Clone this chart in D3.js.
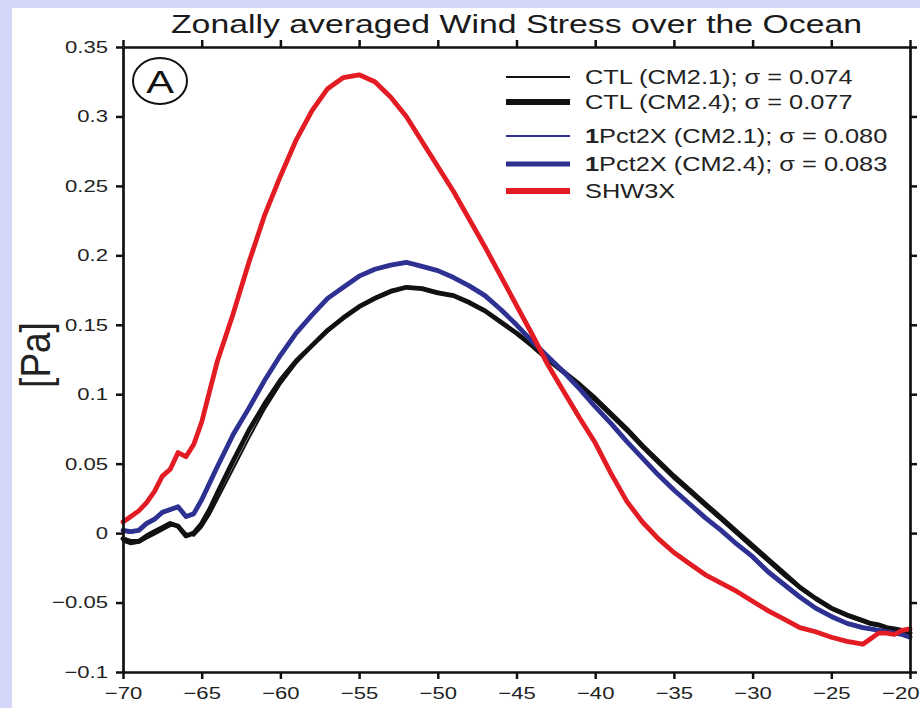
<!DOCTYPE html>
<html>
<head>
<meta charset="utf-8">
<script src="https://cdn.jsdelivr.net/npm/d3@7"></script>
<style>
  body { margin: 0; background: #d4d6fa; }
  svg { display: block; }
</style>
</head>
<body>
<div id="chart"></div>
<script>
// latitude grid shared by all curves
const lats = [-70, -69.5, -69, -68.5, -68, -67.5, -67, -66.5, -66, -65.5, -65, -64.5, -64,
  -63, -62, -61, -60, -59, -58, -57, -56, -55, -54, -53, -52, -51, -50, -49, -48, -47, -46,
  -45, -44, -43, -42, -41, -40, -39, -38, -37, -36, -35, -34, -33, -32, -31, -30, -29, -28,
  -27, -26, -25, -24, -23, -22.5, -22, -21.5, -21, -20.5, -20];

const ctl21 = [-0.006, -0.008, -0.007, -0.004, -0.001, 0.002, 0.005, 0.006, 0.000, -0.002, 0.004, 0.013, 0.024,
  0.046, 0.068, 0.089, 0.107, 0.122, 0.134, 0.145, 0.155, 0.163, 0.170, 0.175, 0.177, 0.176, 0.174, 0.171, 0.167, 0.160, 0.152,
  0.143, 0.134, 0.124, 0.115, 0.105, 0.095, 0.084, 0.073, 0.061, 0.050, 0.039, 0.029, 0.019, 0.009, -0.001, -0.011, -0.021, -0.031,
  -0.040, -0.048, -0.055, -0.060, -0.064, -0.066, -0.067, -0.069, -0.070, -0.071, -0.073];

const ctl24 = [-0.004, -0.006, -0.006, -0.002, 0.001, 0.004, 0.007, 0.005, -0.002, 0.000, 0.007, 0.017, 0.029,
  0.052, 0.074, 0.093, 0.110, 0.124, 0.135, 0.146, 0.155, 0.163, 0.169, 0.174, 0.177, 0.176, 0.173, 0.171, 0.166, 0.160, 0.152,
  0.144, 0.135, 0.125, 0.116, 0.107, 0.097, 0.086, 0.075, 0.063, 0.052, 0.041, 0.031, 0.021, 0.011, 0.001, -0.009, -0.019, -0.029,
  -0.039, -0.047, -0.054, -0.059, -0.063, -0.065, -0.066, -0.068, -0.069, -0.070, -0.072];

const pct21 = [0.001, 0.000, 0.002, 0.006, 0.009, 0.014, 0.016, 0.018, 0.011, 0.013, 0.023, 0.035, 0.047,
  0.070, 0.089, 0.109, 0.127, 0.143, 0.157, 0.168, 0.177, 0.185, 0.190, 0.193, 0.194, 0.192, 0.189, 0.184, 0.178, 0.170, 0.161,
  0.150, 0.138, 0.127, 0.115, 0.103, 0.090, 0.078, 0.066, 0.054, 0.042, 0.031, 0.021, 0.011, 0.002, -0.008, -0.018, -0.028, -0.037,
  -0.046, -0.054, -0.060, -0.065, -0.068, -0.069, -0.070, -0.071, -0.072, -0.073, -0.075];

const pct24 = [0.002, 0.001, 0.002, 0.007, 0.010, 0.015, 0.017, 0.019, 0.012, 0.014, 0.024, 0.036, 0.048,
  0.071, 0.090, 0.110, 0.128, 0.144, 0.157, 0.169, 0.177, 0.185, 0.190, 0.193, 0.195, 0.192, 0.189, 0.184, 0.178, 0.171, 0.161,
  0.150, 0.138, 0.127, 0.116, 0.104, 0.091, 0.079, 0.066, 0.054, 0.042, 0.031, 0.021, 0.011, 0.002, -0.008, -0.017, -0.028, -0.037,
  -0.046, -0.054, -0.060, -0.065, -0.068, -0.069, -0.070, -0.071, -0.072, -0.073, -0.075];

const shw3x = [0.008, 0.012, 0.016, 0.022, 0.030, 0.041, 0.046, 0.058, 0.055, 0.064, 0.080, 0.102, 0.124,
  0.158, 0.195, 0.229, 0.257, 0.283, 0.304, 0.320, 0.328, 0.330, 0.325, 0.314, 0.300, 0.282, 0.264, 0.246, 0.226, 0.206, 0.185,
  0.164, 0.143, 0.121, 0.102, 0.083, 0.065, 0.043, 0.023, 0.008, -0.004, -0.014, -0.022, -0.030, -0.036, -0.042, -0.049, -0.056, -0.062,
  -0.068, -0.071, -0.075, -0.078, -0.080, -0.076, -0.072, -0.072, -0.073, -0.070, -0.069];

const seriesNames = ["CTL (CM2.1); σ = 0.074", "CTL (CM2.4); σ = 0.077",
  "1Pct2X (CM2.1); σ = 0.080", "1Pct2X (CM2.4); σ = 0.083", "SHW3X"];
const seriesValues = [ctl21, ctl24, pct21, pct24, shw3x];

const xTicks = [-70, -65, -60, -55, -50, -45, -40, -35, -30, -25, -20];
const yTicks = [-0.1, -0.05, 0, 0.05, 0.1, 0.15, 0.2, 0.25, 0.3, 0.35];
const yTickLabels = ["−0.1", "−0.05", "0", "0.05", "0.1", "0.15", "0.2", "0.25", "0.3", "0.35"];

// styles per series
const colors = ["#111111", "#111111", "#2e3192", "#2e3192", "#e31b23"];
const widths = [2, 4.8, 2, 4.8, 4.8];

const W = 920, H = 708;
const SX = 1.3;   // the original figure is stretched horizontally
const m = { left: 123, right: 10, top: 47, bottom: 36 };

const svg = d3.select("#chart").append("svg")
  .attr("width", W).attr("height", H)
  .style("font-family", "'Liberation Sans', Arial, sans-serif");

svg.append("rect").attr("width", W).attr("height", H).attr("fill", "#d4d6fa");
svg.append("rect").attr("x", 12).attr("y", 8)
  .attr("width", W - 12).attr("height", H - 8).attr("fill", "#ffffff");

const x = d3.scaleLinear().domain([-70, -20]).range([m.left, W - m.right]);
const y = d3.scaleLinear().domain([-0.1, 0.35]).range([H - m.bottom, m.top]);

// stretched text helper
function stext(g, px, py, str, size, anchor) {
  return g.append("text")
    .attr("transform", `translate(${px},${py}) scale(${SX},1)`)
    .attr("text-anchor", anchor || "start")
    .style("font-size", size + "px")
    .text(str);
}

// curves
const line = d3.line()
  .x((d, i) => x(lats[i]))
  .y(d => y(d))
  .curve(d3.curveLinear);

const curves = svg.append("g");
seriesValues.forEach((vals, k) => {
  curves.append("path")
    .attr("d", line(vals))
    .attr("fill", "none")
    .attr("stroke", colors[k])
    .attr("stroke-width", widths[k])
    .attr("stroke-linejoin", "round")
    .attr("stroke-linecap", "round");
});

// axes
function styleAxis(g) {
  g.selectAll("path.domain").attr("stroke", "#111").attr("stroke-width", 2.7);
  g.selectAll(".tick line").attr("stroke", "#111").attr("stroke-width", 2.5);
}

const gx = svg.append("g")
  .attr("transform", `translate(0,${H - m.bottom})`)
  .call(d3.axisBottom(x).tickValues(xTicks).tickSize(7).tickSizeOuter(0).tickPadding(8)
    .tickFormat(d => d3.format("d")(d).replace("-", "−")));
gx.call(styleAxis);
gx.selectAll(".tick text")
  .style("font-size", "17px").attr("fill", "#222")
  .attr("transform", `scale(${SX},1)`)
  .attr("x", 0);
// last label sits at the page edge: keep it fully inside
gx.selectAll(".tick text").filter(d => d === -20)
  .attr("text-anchor", "end")
  .attr("x", (W - 1 - x(-20)) / SX);

const gy = svg.append("g")
  .attr("transform", `translate(${m.left},0)`)
  .call(d3.axisLeft(y).tickValues(yTicks).tickSize(7).tickSizeOuter(0).tickPadding(8)
    .tickFormat((d, i) => yTickLabels[i]));
gy.call(styleAxis);
gy.selectAll(".tick text")
  .style("font-size", "17px").attr("fill", "#222")
  .attr("x", -15 / SX)
  .attr("transform", `scale(${SX},1)`);

const gt = svg.append("g")
  .attr("transform", `translate(0,${m.top})`)
  .call(d3.axisTop(x).tickValues(xTicks).tickSize(7).tickSizeOuter(0).tickFormat(""));
gt.call(styleAxis);

const gr = svg.append("g")
  .attr("transform", `translate(${W - m.right},0)`)
  .call(d3.axisRight(y).tickValues(yTicks).tickSize(7).tickSizeOuter(0).tickFormat(""));
gr.call(styleAxis);

// title
stext(svg, (m.left + W - m.right) / 2, 33, "Zonally averaged Wind Stress over the Ocean", 26, "middle")
  .attr("fill", "#1a1a1a");

// y label
svg.append("text")
  .attr("transform", `translate(50,355) rotate(-90) scale(1,1.15)`)
  .attr("text-anchor", "middle")
  .style("font-size", "37px")
  .attr("fill", "#222")
  .text("[Pa]");

// panel letter
svg.append("ellipse")
  .attr("cx", 160).attr("cy", 81).attr("rx", 27).attr("ry", 23)
  .attr("fill", "none").attr("stroke", "#111").attr("stroke-width", 2);
stext(svg, 160, 93, "A", 32, "middle").attr("fill", "#111");

// legend
const legRows = [77, 102, 136, 164, 191];
const leg = svg.append("g");
seriesNames.forEach((name, k) => {
  const ry = legRows[k];
  leg.append("line")
    .attr("x1", 506).attr("x2", 570)
    .attr("y1", ry).attr("y2", ry)
    .attr("stroke", colors[k])
    .attr("stroke-width", widths[k] + (k === 1 || k === 4 ? 1 : 0));
  const t = stext(leg, 585, ry + 7, "", 19.5, "start").attr("fill", "#222");
  if (name.startsWith("1")) {
    t.append("tspan").style("font-weight", "bold").text("1");
    t.append("tspan").text(name.slice(1));
  } else {
    t.text(name);
  }
});
</script>
</body>
</html>
